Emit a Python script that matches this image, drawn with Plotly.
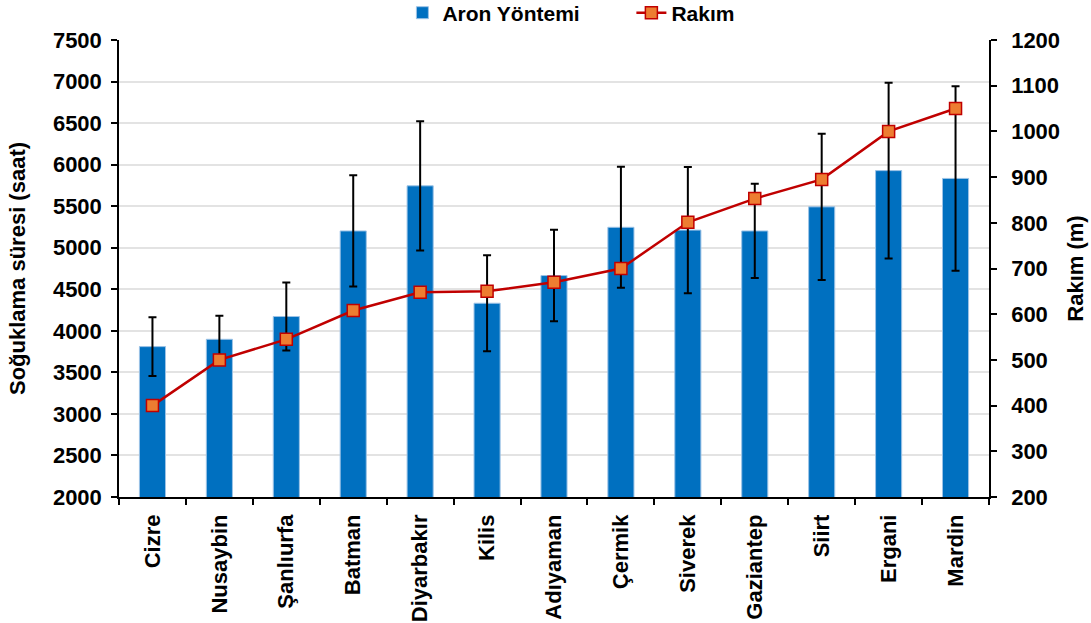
import plotly.graph_objects as go

cities = ["Cizre", "Nusaybin", "Şanlıurfa", "Batman", "Diyarbakır", "Kilis", "Adıyaman",
          "Çermik", "Siverek", "Gaziantep", "Siirt", "Ergani", "Mardin"]
aron = [3810, 3898, 4172, 5202, 5745, 4332, 4665, 5246, 5212, 5202, 5492, 5928, 5834]
aron_err = [353, 282, 410, 670, 778, 577, 550, 728, 760, 567, 880, 1057, 1110]
rakim = [400, 500, 545, 608, 648, 650, 670, 700, 801, 853, 895, 1000, 1050]

font_family = "Liberation Sans, Arial, sans-serif"
fs = 22

fig = go.Figure()
fig.add_trace(go.Bar(
    x=cities, y=aron, name="<b>Aron Yöntemi</b>" + "&nbsp;" * 8,
    marker=dict(color="#0070C0", line=dict(color="#9DC3E6", width=1)),
    error_y=dict(type="data", array=aron_err, visible=True, color="black", thickness=2, width=4),
    yaxis="y",
))
fig.add_trace(go.Scatter(
    x=cities, y=rakim, name="<b>Rakım</b>", mode="lines+markers",
    line=dict(color="#C00000", width=2.5),
    marker=dict(symbol="square", size=12, color="#ED7D31", line=dict(color="#C00000", width=1.5)),
    yaxis="y2",
))

fig.update_layout(
    width=1091, height=623,
    paper_bgcolor="white", plot_bgcolor="white",
    margin=dict(l=119, r=102, t=40, b=126, autoexpand=False),
    bargap=0.61,
    font=dict(family=font_family, size=fs, color="black"),
    showlegend=True,
    legend=dict(orientation="h", x=0.52, xanchor="center", y=1.059, yanchor="middle",
                font=dict(size=21, family=font_family), bgcolor="rgba(0,0,0,0)",
                tracegroupgap=0),
    xaxis=dict(
        range=[-0.5, len(cities) - 0.5],
        tickangle=-90, tickfont=dict(size=fs, family=font_family),
        showline=True, linecolor="black", linewidth=1.5,
        ticks="outside", ticklen=6, tickcolor="black", tickwidth=1.5,
        tickson="boundaries", showgrid=False, automargin=False, ticklabelstandoff=7,
        tickprefix="<b>", ticksuffix="</b>",
    ),
    yaxis=dict(
        range=[2000, 7500], dtick=500, automargin=False,
        title=dict(text="<b>Soğuklama süresi (saat)</b>", font=dict(size=fs), standoff=21),
        tickfont=dict(size=fs), tickprefix="<b>", ticksuffix="</b>", ticklabelstandoff=5,
        showline=True, linecolor="black", linewidth=1.5,
        ticks="outside", ticklen=6, tickcolor="black", tickwidth=1.5,
        showgrid=True, gridcolor="#E3E3E3", gridwidth=1.5, zeroline=False,
    ),
    yaxis2=dict(
        range=[200, 1200], dtick=100, overlaying="y", side="right", automargin=False,
        title=dict(text="<b>Rakım (m)</b>", font=dict(size=fs), standoff=8),
        tickfont=dict(size=fs), tickprefix="<b>", ticksuffix="</b>", ticklabelstandoff=10,
        showline=True, linecolor="black", linewidth=1.5,
        ticks="outside", ticklen=6, tickcolor="black", tickwidth=1.5,
        showgrid=False, zeroline=False,
    ),
)

fig.write_html("out.html", config={"displayModeBar": False},
               post_script="document.body.style.margin='0';")
